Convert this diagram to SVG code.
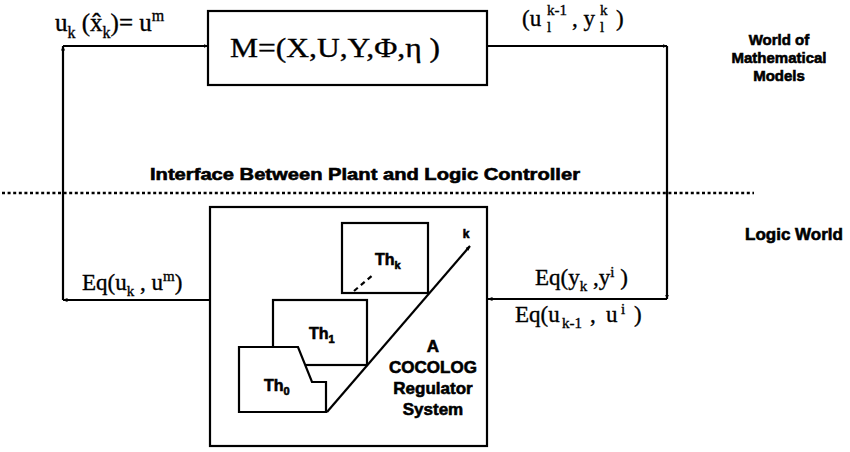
<svg xmlns="http://www.w3.org/2000/svg" width="850" height="452" viewBox="0 0 850 452">
<defs>
<marker id="ah" viewBox="0 0 10 10" refX="9" refY="5" markerWidth="5" markerHeight="5" orient="auto" markerUnits="userSpaceOnUse">
<path d="M0,1 L10,5 L0,9 z" fill="#000"/>
</marker>
<style>
.ln{fill:none;stroke:#000;stroke-width:2.2}
.box{fill:#fff;stroke:#000;stroke-width:2.2}
.serif{font-family:"Liberation Serif","Times New Roman",serif;fill:#000;stroke:#000;stroke-width:0.35}
.sans{font-family:"Liberation Sans",Arial,sans-serif;font-weight:bold;fill:#000;stroke:#000;stroke-width:0.6}
</style>
</defs>
<rect width="850" height="452" fill="#fff"/>

<g id="connectors">
<line class="ln" x1="63" y1="46" x2="208" y2="46" marker-end="url(#ah)"/>
<line class="ln" x1="487" y1="46" x2="667" y2="46" marker-end="url(#ah)"/>
<line class="ln" x1="667" y1="46" x2="667" y2="299" marker-end="url(#ah)"/>
<line class="ln" x1="667" y1="299" x2="488" y2="299" marker-end="url(#ah)"/>
<line class="ln" x1="210" y1="300" x2="63" y2="300" marker-end="url(#ah)"/>
<line class="ln" x1="63" y1="300" x2="63" y2="46" marker-end="url(#ah)"/>
</g>

<g id="interface">
<line x1="2" y1="193" x2="754" y2="193" stroke="#000" stroke-width="2.6" stroke-dasharray="3,2.6"/>
<text class="sans" x="150" y="180" font-size="17" textLength="430" lengthAdjust="spacingAndGlyphs">Interface Between Plant and Logic Controller</text>
</g>

<g id="label-top-left">
<text class="serif" x="55" y="31" font-size="25">u<tspan font-size="16" dy="7">k</tspan><tspan dy="-7"> (x̂</tspan><tspan font-size="16" dy="7">k</tspan><tspan dy="-7">)= u</tspan><tspan font-size="16" dy="-10">m</tspan></text>
</g>

<g id="model">
<rect class="box" x="208" y="11" width="279" height="74"/>
<text class="serif" x="230" y="57" font-size="28" textLength="210" lengthAdjust="spacingAndGlyphs">M=(X,U,Y,Φ,η )</text>
</g>

<g id="label-top-right">
<text class="serif" x="522" y="26" font-size="23">(u</text>
<text class="serif" x="547" y="32" font-size="15">l</text>
<text class="serif" x="547" y="15" font-size="15">k-1</text>
<text class="serif" x="572" y="26" font-size="23">, y</text>
<text class="serif" x="600" y="32" font-size="15">l</text>
<text class="serif" x="600" y="15" font-size="15">k</text>
<text class="serif" x="616" y="26" font-size="23">)</text>
</g>

<g id="world-math">
<text class="sans" x="779" y="45" font-size="15" text-anchor="middle">World of</text>
<text class="sans" x="779" y="63" font-size="15" text-anchor="middle">Mathematical</text>
<text class="sans" x="779" y="81" font-size="15" text-anchor="middle">Models</text>
</g>

<g id="logic-world">
<text class="sans" x="794" y="240" font-size="17" text-anchor="middle">Logic World</text>
</g>

<g id="label-left">
<text class="serif" x="82" y="290" font-size="23">Eq(u<tspan font-size="15" dy="6">k</tspan><tspan dy="-6"> , u</tspan><tspan font-size="15" dy="-9">m</tspan><tspan dy="9">)</tspan></text>
</g>

<g id="label-right">
<text class="serif" x="535" y="285" font-size="23">Eq(y<tspan font-size="15" dy="6">k</tspan><tspan dy="-6"> ,y</tspan><tspan font-size="15" dy="-8">i</tspan><tspan dy="8"> )</tspan></text>
<text class="serif" y="322" font-size="23"><tspan x="515">Eq(u</tspan><tspan x="562" dy="6" font-size="15">k-1</tspan><tspan x="590" dy="-6">,</tspan><tspan x="606">u</tspan><tspan x="621" dy="-8" font-size="15">i</tspan><tspan x="634" dy="8">)</tspan></text>
</g>

<g id="regulator">
<rect class="box" x="210" y="207" width="277" height="239"/>
<rect class="box" x="342" y="223" width="86" height="70"/>
<text class="sans" x="375" y="265" font-size="16">Th<tspan font-size="11" dy="4">k</tspan></text>
<line x1="354" y1="291" x2="374" y2="274" stroke="#000" stroke-width="2.2" stroke-dasharray="5,4"/>
<rect class="box" x="273" y="300" width="94" height="65"/>
<text class="sans" x="309" y="339" font-size="16">Th<tspan font-size="11" dy="4">1</tspan></text>
<path class="box" d="M239,347 H298 L312,382 H326 V412 H239 Z"/>
<text class="sans" x="264" y="391" font-size="16">Th<tspan font-size="11" dy="4">0</tspan></text>
<line class="ln" x1="327" y1="412" x2="470" y2="246" marker-end="url(#ah)"/>
<text class="sans" x="466" y="238" font-size="12" text-anchor="middle">k</text>
<text class="sans" font-size="17" text-anchor="middle"><tspan x="433" y="352">A</tspan><tspan x="433" y="373">COCOLOG</tspan><tspan x="433" y="394">Regulator</tspan><tspan x="433" y="415">System</tspan></text>
</g>
</svg>
